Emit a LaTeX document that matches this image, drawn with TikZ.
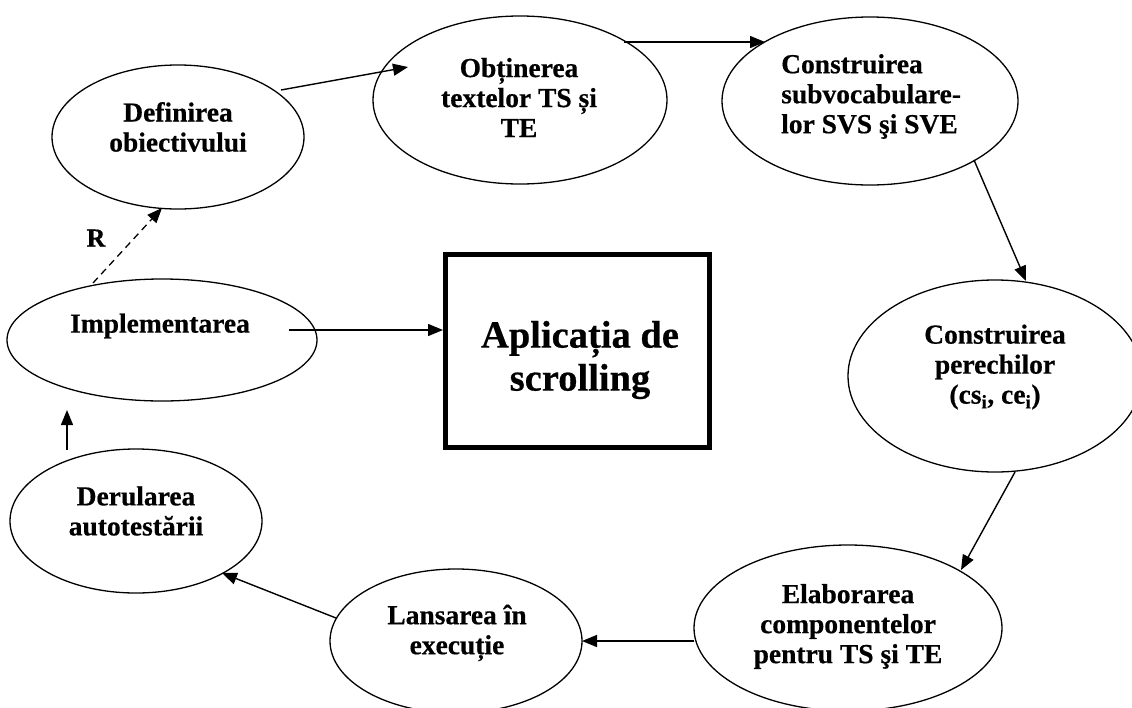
\documentclass[tikz,border=0pt]{standalone}
\usepackage{fontspec}
\setmainfont{Liberation Serif}[BoldFeatures={FakeBold=0.5}]
\usetikzlibrary{shapes.geometric,arrows.meta,calc}
\begin{document}
\begin{tikzpicture}[x=1pt,y=-1pt,
  oval/.style={draw, ellipse, line width=1.3pt, inner sep=0pt},
  txt/.style={font=\fontsize{27.5}{30}\selectfont\bfseries, align=center, inner sep=0pt},
  arr/.style={line width=1.4pt, -{Triangle[length=15pt,width=12pt]}},
]
\fill[white] (0,0) rectangle (1132,707);
\useasboundingbox (0,0) rectangle (1132,707);

% ellipses
\node[oval, minimum width=252pt, minimum height=144pt] (def)  at (178,137) {};
\node[oval, minimum width=294pt, minimum height=168pt] (obt)  at (520,100) {};
\node[oval, minimum width=296pt, minimum height=168pt] (cons) at (870,101) {};
\node[oval, minimum width=294pt, minimum height=192pt] (per)  at (995,376) {};
\node[oval, minimum width=308pt, minimum height=166pt] (elab) at (848,628) {};
\node[oval, minimum width=252pt, minimum height=144pt] (lan)  at (456,641) {};
\node[oval, minimum width=252pt, minimum height=144pt] (der)  at (136,521) {};
\node[oval, minimum width=310pt, minimum height=122pt] (imp)  at (162,340) {};
\node[draw, line width=5pt, minimum width=264pt, minimum height=193pt, inner sep=0pt] (box) at (577.5,351) {};

% texts
\node[txt] (tdef) at (178,127) {Definirea\\obiectivului};
\node[txt] (tobt) at (519,97.5) {Obținerea\\textelor TS și\\TE};
\node[txt, align=left, anchor=west] (tcons) at (781,96.5) {Construirea\\subvocabulare-\\lor SVS şi SVE};
\node[txt] (tper) at (995,367) {Construirea\\perechilor\\(cs\textsubscript{i}, ce\textsubscript{i})};
\node[txt] (telab) at (848,626.5) {Elaborarea\\componentelor\\pentru TS şi TE};
\node[txt] (tlan) at (457,633) {Lansarea în\\execuție};
\node[txt] (tder) at (136,511) {Derularea\\autotestării};
\node[txt] (timp) at (160,326) {Implementarea};
\node[font=\fontsize{38.5}{43}\selectfont\bfseries, align=center, inner sep=0pt] (title) at (580,360) {Aplicația de\\scrolling};
\node[font=\fontsize{26}{30}\selectfont\bfseries, inner sep=0pt] (rlab) at (96,238) {R};

% connectors
\draw[arr] ($(def.center)+(103,-47)$) -- ($(obt.center)+(-112,-33)$);
\draw[arr] ($(obt.center)+(104,-58)$) -- ($(cons.center)+(-105,-59)$);
\draw[arr] ($(cons.center)+(104,59)$) -- ($(per.center)+(31,-95)$);
\draw[arr] ($(per.center)+(20,96)$) -- ($(elab.center)+(113,-58)$);
\draw[arr] ($(elab.center)+(-154,13)$) -- ($(lan.center)+(126,0)$);
\draw[arr] ($(lan.center)+(-120,-23)$) -- ($(der.center)+(86,52)$);
\draw[arr] ($(der.center)+(-69,-71)$) -- ($(imp.center)+(-95,70)$);
\draw[arr] ($(imp.center)+(127,-10)$) -- ($(box.center)+(-134.5,-21)$);
\draw[arr, line width=1.3pt, dash pattern=on 7pt off 5pt] ($(imp.center)+(-69,-57)$) -- ($(def.center)+(-16,71)$);
\end{tikzpicture}
\end{document}
